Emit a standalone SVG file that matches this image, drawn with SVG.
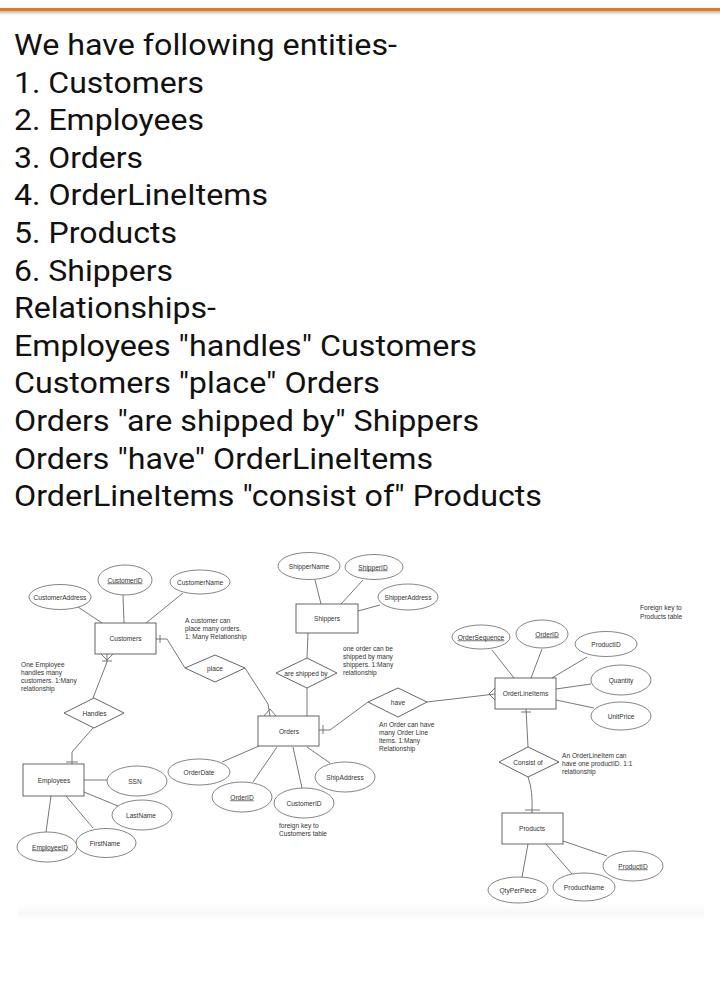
<svg xmlns="http://www.w3.org/2000/svg" width="720" height="987" viewBox="0 0 720 987">
<defs>
<linearGradient id="shadow" x1="0" y1="0" x2="0" y2="1"><stop offset="0" stop-color="#bbbbbb"/><stop offset="1" stop-color="#ffffff"/></linearGradient>
<linearGradient id="fade" x1="0" y1="0" x2="0" y2="1"><stop offset="0" stop-color="#ffffff"/><stop offset="0.6" stop-color="#f7f7f7"/><stop offset="1" stop-color="#ffffff"/></linearGradient>
<style>
.h{font-family:Roboto,"Liberation Sans",sans-serif;font-size:30px;fill:#111}
.t{font-family:"Liberation Sans",Arial,sans-serif;font-size:6.6px;fill:#333}
.c{text-anchor:middle;dominant-baseline:central}
.u{text-decoration:underline}
.e{fill:#fff;stroke:#666;stroke-width:0.8}
.r{fill:#fff;stroke:#555;stroke-width:0.9}
.l{fill:none;stroke:#555;stroke-width:0.8}
</style>
</defs>
<rect width="720" height="987" fill="#fff"/>
<rect x="0" y="11" width="720" height="4" fill="url(#shadow)"/>
<rect x="0" y="8" width="720" height="3" fill="#E57A1F"/>

<g id="heading">
<text class="h" x="14" y="55" textLength="383" lengthAdjust="spacingAndGlyphs">We have following entities-</text>
<text class="h" x="14" y="92.6" textLength="190" lengthAdjust="spacingAndGlyphs">1. Customers</text>
<text class="h" x="14" y="130.2" textLength="190" lengthAdjust="spacingAndGlyphs">2. Employees</text>
<text class="h" x="14" y="167.8" textLength="129" lengthAdjust="spacingAndGlyphs">3. Orders</text>
<text class="h" x="14" y="205.4" textLength="254" lengthAdjust="spacingAndGlyphs">4. OrderLineItems</text>
<text class="h" x="14" y="243" textLength="163" lengthAdjust="spacingAndGlyphs">5. Products</text>
<text class="h" x="14" y="280.6" textLength="159" lengthAdjust="spacingAndGlyphs">6. Shippers</text>
<text class="h" x="14" y="318.2" textLength="202" lengthAdjust="spacingAndGlyphs">Relationships-</text>
<text class="h" x="14" y="355.8" textLength="463" lengthAdjust="spacingAndGlyphs">Employees "handles" Customers</text>
<text class="h" x="14" y="393.4" textLength="366" lengthAdjust="spacingAndGlyphs">Customers "place" Orders</text>
<text class="h" x="14" y="431" textLength="465" lengthAdjust="spacingAndGlyphs">Orders "are shipped by" Shippers</text>
<text class="h" x="14" y="468.6" textLength="419" lengthAdjust="spacingAndGlyphs">Orders "have" OrderLineItems</text>
<text class="h" x="14" y="506.2" textLength="528" lengthAdjust="spacingAndGlyphs">OrderLineItems "consist of" Products</text>
</g>

<rect x="18" y="904" width="686" height="16" fill="url(#fade)"/>

<g id="connectors">
<line class="l" x1="78" y1="607" x2="102" y2="623"/>
<line class="l" x1="123" y1="595" x2="124" y2="623"/>
<line class="l" x1="183" y1="593" x2="146" y2="623"/>
<polyline class="l" points="156,639 167,639 185,668"/>
<line class="l" x1="160" y1="635" x2="160" y2="643"/>
<polyline class="l" points="245,668 268,704 270,716"/>
<line class="l" x1="270" y1="709" x2="264" y2="716"/>
<line class="l" x1="270" y1="709" x2="276" y2="716"/>
<polyline class="l" points="107,654 107,662 93,698"/>
<line class="l" x1="107" y1="660" x2="101" y2="654"/>
<line class="l" x1="107" y1="660" x2="113" y2="654"/>
<line class="l" x1="102" y1="661" x2="112" y2="661"/>
<polyline class="l" points="93,728 72,752 72,764"/>
<line class="l" x1="66" y1="762" x2="78" y2="762"/>
<line class="l" x1="84" y1="780" x2="107" y2="780"/>
<line class="l" x1="84" y1="792" x2="118" y2="806"/>
<line class="l" x1="66" y1="796" x2="93" y2="828"/>
<line class="l" x1="51" y1="796" x2="46" y2="832"/>
<line class="l" x1="315" y1="580" x2="321" y2="604"/>
<line class="l" x1="363" y1="580" x2="341" y2="604"/>
<line class="l" x1="358" y1="611" x2="380" y2="605"/>
<line class="l" x1="308" y1="633" x2="307" y2="658"/>
<line class="l" x1="307" y1="688" x2="307" y2="716"/>
<polyline class="l" points="319,730 330,730 368,702"/>
<line class="l" x1="323" y1="725" x2="323" y2="734"/>
<line class="l" x1="427" y1="702" x2="495" y2="694"/>
<line class="l" x1="489" y1="694" x2="495" y2="688"/>
<line class="l" x1="489" y1="694" x2="495" y2="700"/>
<line class="l" x1="259" y1="746" x2="222" y2="762"/>
<line class="l" x1="277" y1="747" x2="253" y2="782"/>
<line class="l" x1="293" y1="747" x2="302" y2="788"/>
<line class="l" x1="307" y1="747" x2="330" y2="763"/>
<line class="l" x1="492" y1="650" x2="514" y2="678"/>
<line class="l" x1="542" y1="649" x2="531" y2="678"/>
<line class="l" x1="587" y1="657" x2="552" y2="678"/>
<line class="l" x1="556" y1="689" x2="591" y2="684"/>
<line class="l" x1="556" y1="700" x2="594" y2="708"/>
<line class="l" x1="526" y1="709" x2="528" y2="747"/>
<line class="l" x1="521" y1="712" x2="531" y2="712"/>
<path class="l" d="M528,777 Q533,790 532,813"/>
<line class="l" x1="525" y1="810" x2="540" y2="810"/>
<line class="l" x1="563" y1="841" x2="607" y2="856"/>
<line class="l" x1="546" y1="844" x2="572" y2="874"/>
<line class="l" x1="528" y1="844" x2="522" y2="877"/>
</g>

<g id="customers"><rect class="r" x="95" y="623" width="61" height="31"/><text class="t c" x="125.5" y="638.5">Customers</text></g>
<g id="customerAddress"><ellipse class="e" cx="60" cy="597" rx="31" ry="12.5"/><text class="t c" x="60" y="597">CustomerAddress</text></g>
<g id="customerID"><ellipse class="e" cx="125" cy="580" rx="27" ry="15"/><text class="t c u" x="125" y="580">CustomerID</text></g>
<g id="customerName"><ellipse class="e" cx="200" cy="582" rx="30" ry="12"/><text class="t c" x="200" y="582">CustomerName</text></g>

<g id="place"><polygon class="r" points="185,668 215,655 245,668 215,682"/><text class="t c" x="215" y="668">place</text></g>
<g id="handles"><polygon class="r" points="64,713 94,698 124,713 94,728"/><text class="t c" x="94.5" y="713">Handles</text></g>

<g id="employees"><rect class="r" x="23" y="764" width="61" height="32"/><text class="t c" x="54" y="780">Employees</text></g>
<g id="ssn"><ellipse class="e" cx="137" cy="781" rx="30" ry="15"/><text class="t c" x="135" y="781">SSN</text></g>
<g id="lastName"><ellipse class="e" cx="142" cy="815" rx="30" ry="15"/><text class="t c" x="141" y="815">LastName</text></g>
<g id="firstName"><ellipse class="e" cx="106" cy="843" rx="30" ry="14.5"/><text class="t c" x="105" y="843">FirstName</text></g>
<g id="employeeID"><ellipse class="e" cx="47" cy="847" rx="30" ry="15"/><text class="t c u" x="50" y="847">EmployeeID</text></g>

<g id="shippers"><rect class="r" x="296" y="604" width="62" height="29"/><text class="t c" x="327" y="618.5">Shippers</text></g>
<g id="shipperName"><ellipse class="e" cx="309" cy="566" rx="31" ry="13.5"/><text class="t c" x="309" y="566">ShipperName</text></g>
<g id="shipperID"><ellipse class="e" cx="374" cy="567" rx="29" ry="12.5"/><text class="t c u" x="373" y="567">ShipperID</text></g>
<g id="shipperAddress"><ellipse class="e" cx="408" cy="597" rx="30" ry="13"/><text class="t c" x="408" y="597">ShipperAddress</text></g>
<g id="areShippedBy"><polygon class="r" points="276,673 307,658 337,673 307,688"/><text class="t c" x="306" y="673">are shipped by</text></g>

<g id="orders"><rect class="r" x="258" y="716" width="61" height="30"/><text class="t c" x="289" y="731">Orders</text></g>
<g id="orderDate"><ellipse class="e" cx="199" cy="772" rx="31" ry="13"/><text class="t c" x="199" y="772">OrderDate</text></g>
<g id="orderID"><ellipse class="e" cx="242" cy="797" rx="30" ry="15"/><text class="t c u" x="242" y="797">OrderID</text></g>
<g id="ordersCustomerID"><ellipse class="e" cx="304" cy="803" rx="30" ry="15"/><text class="t c" x="304" y="803">CustomerID</text></g>
<g id="shipAddress"><ellipse class="e" cx="345" cy="777" rx="30" ry="15"/><text class="t c" x="345" y="777">ShipAddress</text></g>

<g id="have"><polygon class="r" points="368,702 398,688 427,702 398,717"/><text class="t c" x="398" y="702">have</text></g>

<g id="orderLineItems"><rect class="r" x="495" y="678" width="61" height="31"/><text class="t c" x="525.5" y="693">OrderLineItems</text></g>
<g id="orderSequence"><ellipse class="e" cx="481" cy="637" rx="29" ry="12"/><text class="t c u" x="481" y="637">OrderSequence</text></g>
<g id="oliOrderID"><ellipse class="e" cx="542" cy="634" rx="26" ry="14"/><text class="t c u" x="547" y="634">OrderID</text></g>
<g id="oliProductID"><ellipse class="e" cx="606" cy="644" rx="31" ry="12.5"/><text class="t c" x="606" y="644">ProductID</text></g>
<g id="quantity"><ellipse class="e" cx="621" cy="680" rx="30" ry="15"/><text class="t c" x="621" y="680">Quantity</text></g>
<g id="unitPrice"><ellipse class="e" cx="621" cy="716" rx="30" ry="14"/><text class="t c" x="621" y="716">UnitPrice</text></g>

<g id="consistOf"><polygon class="r" points="499,762 528,747 559,762 528,777"/><text class="t c" x="528" y="762">Consist of</text></g>

<g id="products"><rect class="r" x="502" y="813" width="61" height="31"/><text class="t c" x="532" y="828">Products</text></g>
<g id="productID"><ellipse class="e" cx="633" cy="866" rx="30" ry="15"/><text class="t c u" x="633" y="866">ProductID</text></g>
<g id="qtyPerPiece"><ellipse class="e" cx="518" cy="890" rx="30" ry="13"/><text class="t c" x="518" y="890">QtyPerPiece</text></g>
<g id="productName"><ellipse class="e" cx="584" cy="887" rx="31" ry="14"/><text class="t c" x="584" y="887">ProductName</text></g>

<g id="notes">
<text class="t" x="185" y="623">A customer can</text>
<text class="t" x="185" y="631">place many orders.</text>
<text class="t" x="185" y="639">1: Many Relationship</text>
<text class="t" x="21" y="667">One Employee</text>
<text class="t" x="21" y="675">handles many</text>
<text class="t" x="21" y="683">customers. 1:Many</text>
<text class="t" x="21" y="691">relationship</text>
<text class="t" x="343" y="651">one order can be</text>
<text class="t" x="343" y="659">shipped by many</text>
<text class="t" x="343" y="667">shippers. 1:Many</text>
<text class="t" x="343" y="675">relationship</text>
<text class="t" x="379" y="727">An Order can have</text>
<text class="t" x="379" y="735">many Order Line</text>
<text class="t" x="379" y="743">items. 1:Many</text>
<text class="t" x="379" y="751">Relationship</text>
<text class="t" x="279" y="828">foreign key to</text>
<text class="t" x="279" y="836">Customers table</text>
<text class="t" x="640" y="610">Foreign key to</text>
<text class="t" x="640" y="619">Products table</text>
<text class="t" x="562" y="758">An OrderLineItem can</text>
<text class="t" x="562" y="766">have one productID. 1:1</text>
<text class="t" x="562" y="774">relationship</text>
</g>
</svg>
